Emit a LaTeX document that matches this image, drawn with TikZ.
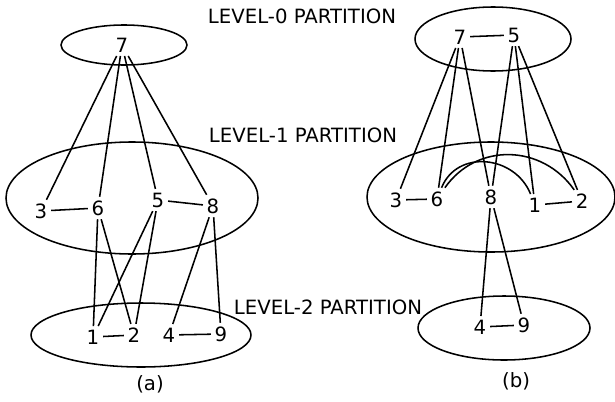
\documentclass[tikz,border=0pt]{standalone}
\usepackage{fontspec}
\setmainfont{DejaVu Sans}
\usetikzlibrary{positioning}

\begin{document}
\begin{tikzpicture}[
        x=0.025cm, y=-0.025cm,
        vertex/.style={inner sep=2.5pt, font=\fontsize{14}{16}\selectfont},
        partition/.style={draw, line width=1.1pt},
        link/.style={line width=1.1pt},
        caption/.style={font=\fontsize{14}{16}\selectfont}
    ]
    \useasboundingbox (0,0) rectangle (615,401);

    % Level labels
    \node[caption] (L0) at (302,16) {LEVEL-0 PARTITION};
    \node[caption] (L1) at (303,135) {LEVEL-1 PARTITION};
    \node[caption] (L2) at (328,307) {LEVEL-2 PARTITION};

    % Left diagram - (a)
    \draw[partition] (124,45) ellipse (63 and 20);
    \draw[partition] (132,198) ellipse (126 and 56);
    \draw[partition] (141,335) ellipse (110 and 32);
    \node[vertex] (a7) at (122,45) {7};
    \node[vertex] (a3) at (41,211) {3};
    \node[vertex] (a6) at (98,208) {6};
    \node[vertex] (a5) at (158,200) {5};
    \node[vertex] (a8) at (213,206) {8};
    \node[vertex] (a1) at (93,337) {1};
    \node[vertex] (a2) at (134,335) {2};
    \node[vertex] (a4) at (169,335) {4};
    \node[vertex] (a9) at (221,334) {9};
    \draw[link] (a7) -- (a3);
    \draw[link] (a7) -- (a6);
    \draw[link] (a7) -- (a5);
    \draw[link] (a7) -- (a8);
    \draw[link] (a3) -- (a6);
    \draw[link] (a5) -- (a8);
    \draw[link] (a6) -- (a1);
    \draw[link] (a6) -- (a2);
    \draw[link] (a5) -- (a1);
    \draw[link] (a5) -- (a2);
    \draw[link] (a8) -- (a4);
    \draw[link] (a8) -- (a9);
    \draw[link] (a1) -- (a2);
    \draw[link] (a4) -- (a9);
    \node[caption] (capa) at (150,384) {(a)};

    % Right diagram - (b)
    \draw[partition] (493,39) ellipse (78 and 32);
    \draw[partition] (491,197) ellipse (124 and 55);
    \draw[partition] (504,328) ellipse (86 and 32);
    \node[vertex] (b7) at (460,37) {7};
    \node[vertex] (b5) at (514,35) {5};
    \node[vertex] (b3) at (396,200) {3};
    \node[vertex] (b6) at (437,199) {6};
    \node[vertex] (b8) at (491,197) {8};
    \node[vertex] (b1) at (535,205) {1};
    \node[vertex] (b2) at (582,201) {2};
    \node[vertex] (b4) at (480,327) {4};
    \node[vertex] (b9) at (524,325) {9};
    \draw[link] (b7) -- (b5);
    \draw[link] (b7) -- (b3);
    \draw[link] (b7) -- (b6);
    \draw[link] (b7) -- (b8);
    \draw[link] (b5) -- (b8);
    \draw[link] (b5) -- (b1);
    \draw[link] (b5) -- (b2);
    \draw[link] (b3) -- (b6);
    \draw[link] (b1) -- (b2);
    \draw[link] (b6) to[out=68, in=112, looseness=1.2] (b1);
    \draw[link] (b6) to[out=55, in=125, looseness=1.1] (b2);
    \draw[link] (b8) -- (b4);
    \draw[link] (b8) -- (b9);
    \draw[link] (b4) -- (b9);
    \node[caption] (capb) at (516,381) {(b)};
\end{tikzpicture}
\end{document}
